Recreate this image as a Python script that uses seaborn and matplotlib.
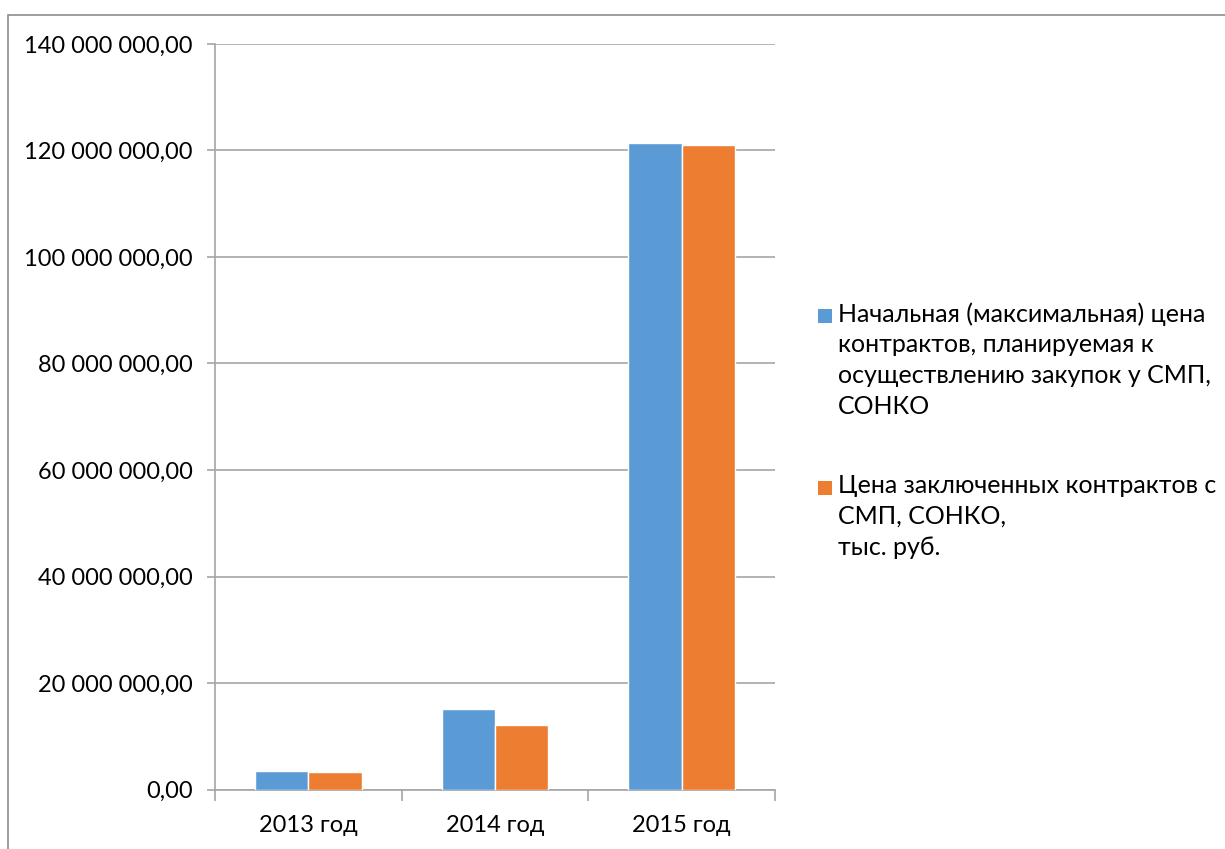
import matplotlib
matplotlib.use("Agg")
import matplotlib.pyplot as plt
import matplotlib.ticker as mticker
from matplotlib.patches import Rectangle
import seaborn as sns
import pandas as pd

categories = ["2013 год", "2014 год", "2015 год"]
series_names = [
    "Начальная (максимальная) цена\nконтрактов, планируемая к\nосуществлению закупок у СМП,\nСОНКО",
    "Цена заключенных контрактов с\nСМП, СОНКО,\nтыс. руб.",
]
initial_price = [3_430_000, 15_070_000, 121_400_000]
contract_price = [3_250_000, 12_100_000, 120_950_000]
y_ticks = [0, 20_000_000, 40_000_000, 60_000_000, 80_000_000, 100_000_000, 120_000_000, 140_000_000]
colors = ["#5B9BD5", "#ED7D31"]

df = pd.DataFrame({
    "cat": categories * 2,
    "series": [series_names[0]] * 3 + [series_names[1]] * 3,
    "value": initial_price + contract_price,
})

sns.set_theme(style="white")
plt.rcParams["font.family"] = ["Lato", "DejaVu Sans"]

W, H = 1225, 849
fig = plt.figure(figsize=(W / 100, H / 100), dpi=100)
ax = fig.add_axes([215 / W, 1 - 789.5 / H, (775 - 215) / W, (789.5 - 44) / H])

sns.barplot(data=df, x="cat", y="value", hue="series", palette=colors,
            saturation=1, width=0.57, dodge=True, legend=False, ax=ax, zorder=3)

grid_c = "#a6a6a6"
ax.set_ylim(0, 140_000_000)
ax.set_yticks(y_ticks)
ax.yaxis.set_major_formatter(mticker.FuncFormatter(
    lambda v, p: f"{v:,.2f}".replace(",", " ").replace(".", ",")))
ax.set_xlim(-0.5, 2.5)
ax.grid(axis="y", color=grid_c, linewidth=1.2, zorder=0)
ax.set_axisbelow(True)
for s in ["top", "right"]:
    ax.spines[s].set_visible(False)
for s in ["left", "bottom"]:
    ax.spines[s].set_color(grid_c)
    ax.spines[s].set_linewidth(1.2)
ax.set_xlabel("")
ax.set_ylabel("")

ax.tick_params(axis="y", length=6, color=grid_c, width=1.2, labelsize=17, pad=10, labelcolor="black", left=True)
ax.set_xticks([0, 1, 2])
ax.set_xticklabels(categories)
ax.tick_params(axis="x", which="major", length=0, labelsize=17, pad=18, labelcolor="black")
ax.set_xticks([-0.5, 0.5, 1.5, 2.5], minor=True)
ax.tick_params(axis="x", which="minor", length=8, color=grid_c, width=1.2, bottom=True)

# outer chart frame
fig.patches.append(Rectangle((8 / W, -0.05), 1.2, 1 - 15 / H + 0.05,
                             transform=fig.transFigure, fill=False,
                             edgecolor="#8c8c8c", linewidth=1.2))

# legend (manual, Excel style)
fs = 18
leg_items = [(316, series_names[0], colors[0]), (488, series_names[1], colors[1])]
for ytop, label, c in leg_items:
    fig.patches.append(Rectangle((818 / W, 1 - (ytop + 7) / H), 14 / W, 14 / H,
                                 transform=fig.transFigure, facecolor=c, edgecolor="none"))
    fig.text(838 / W, 1 - (ytop - 14) / H, label, fontsize=fs, va="top", ha="left",
             linespacing=1.41, color="black")

fig.savefig("out.png", dpi=100)
